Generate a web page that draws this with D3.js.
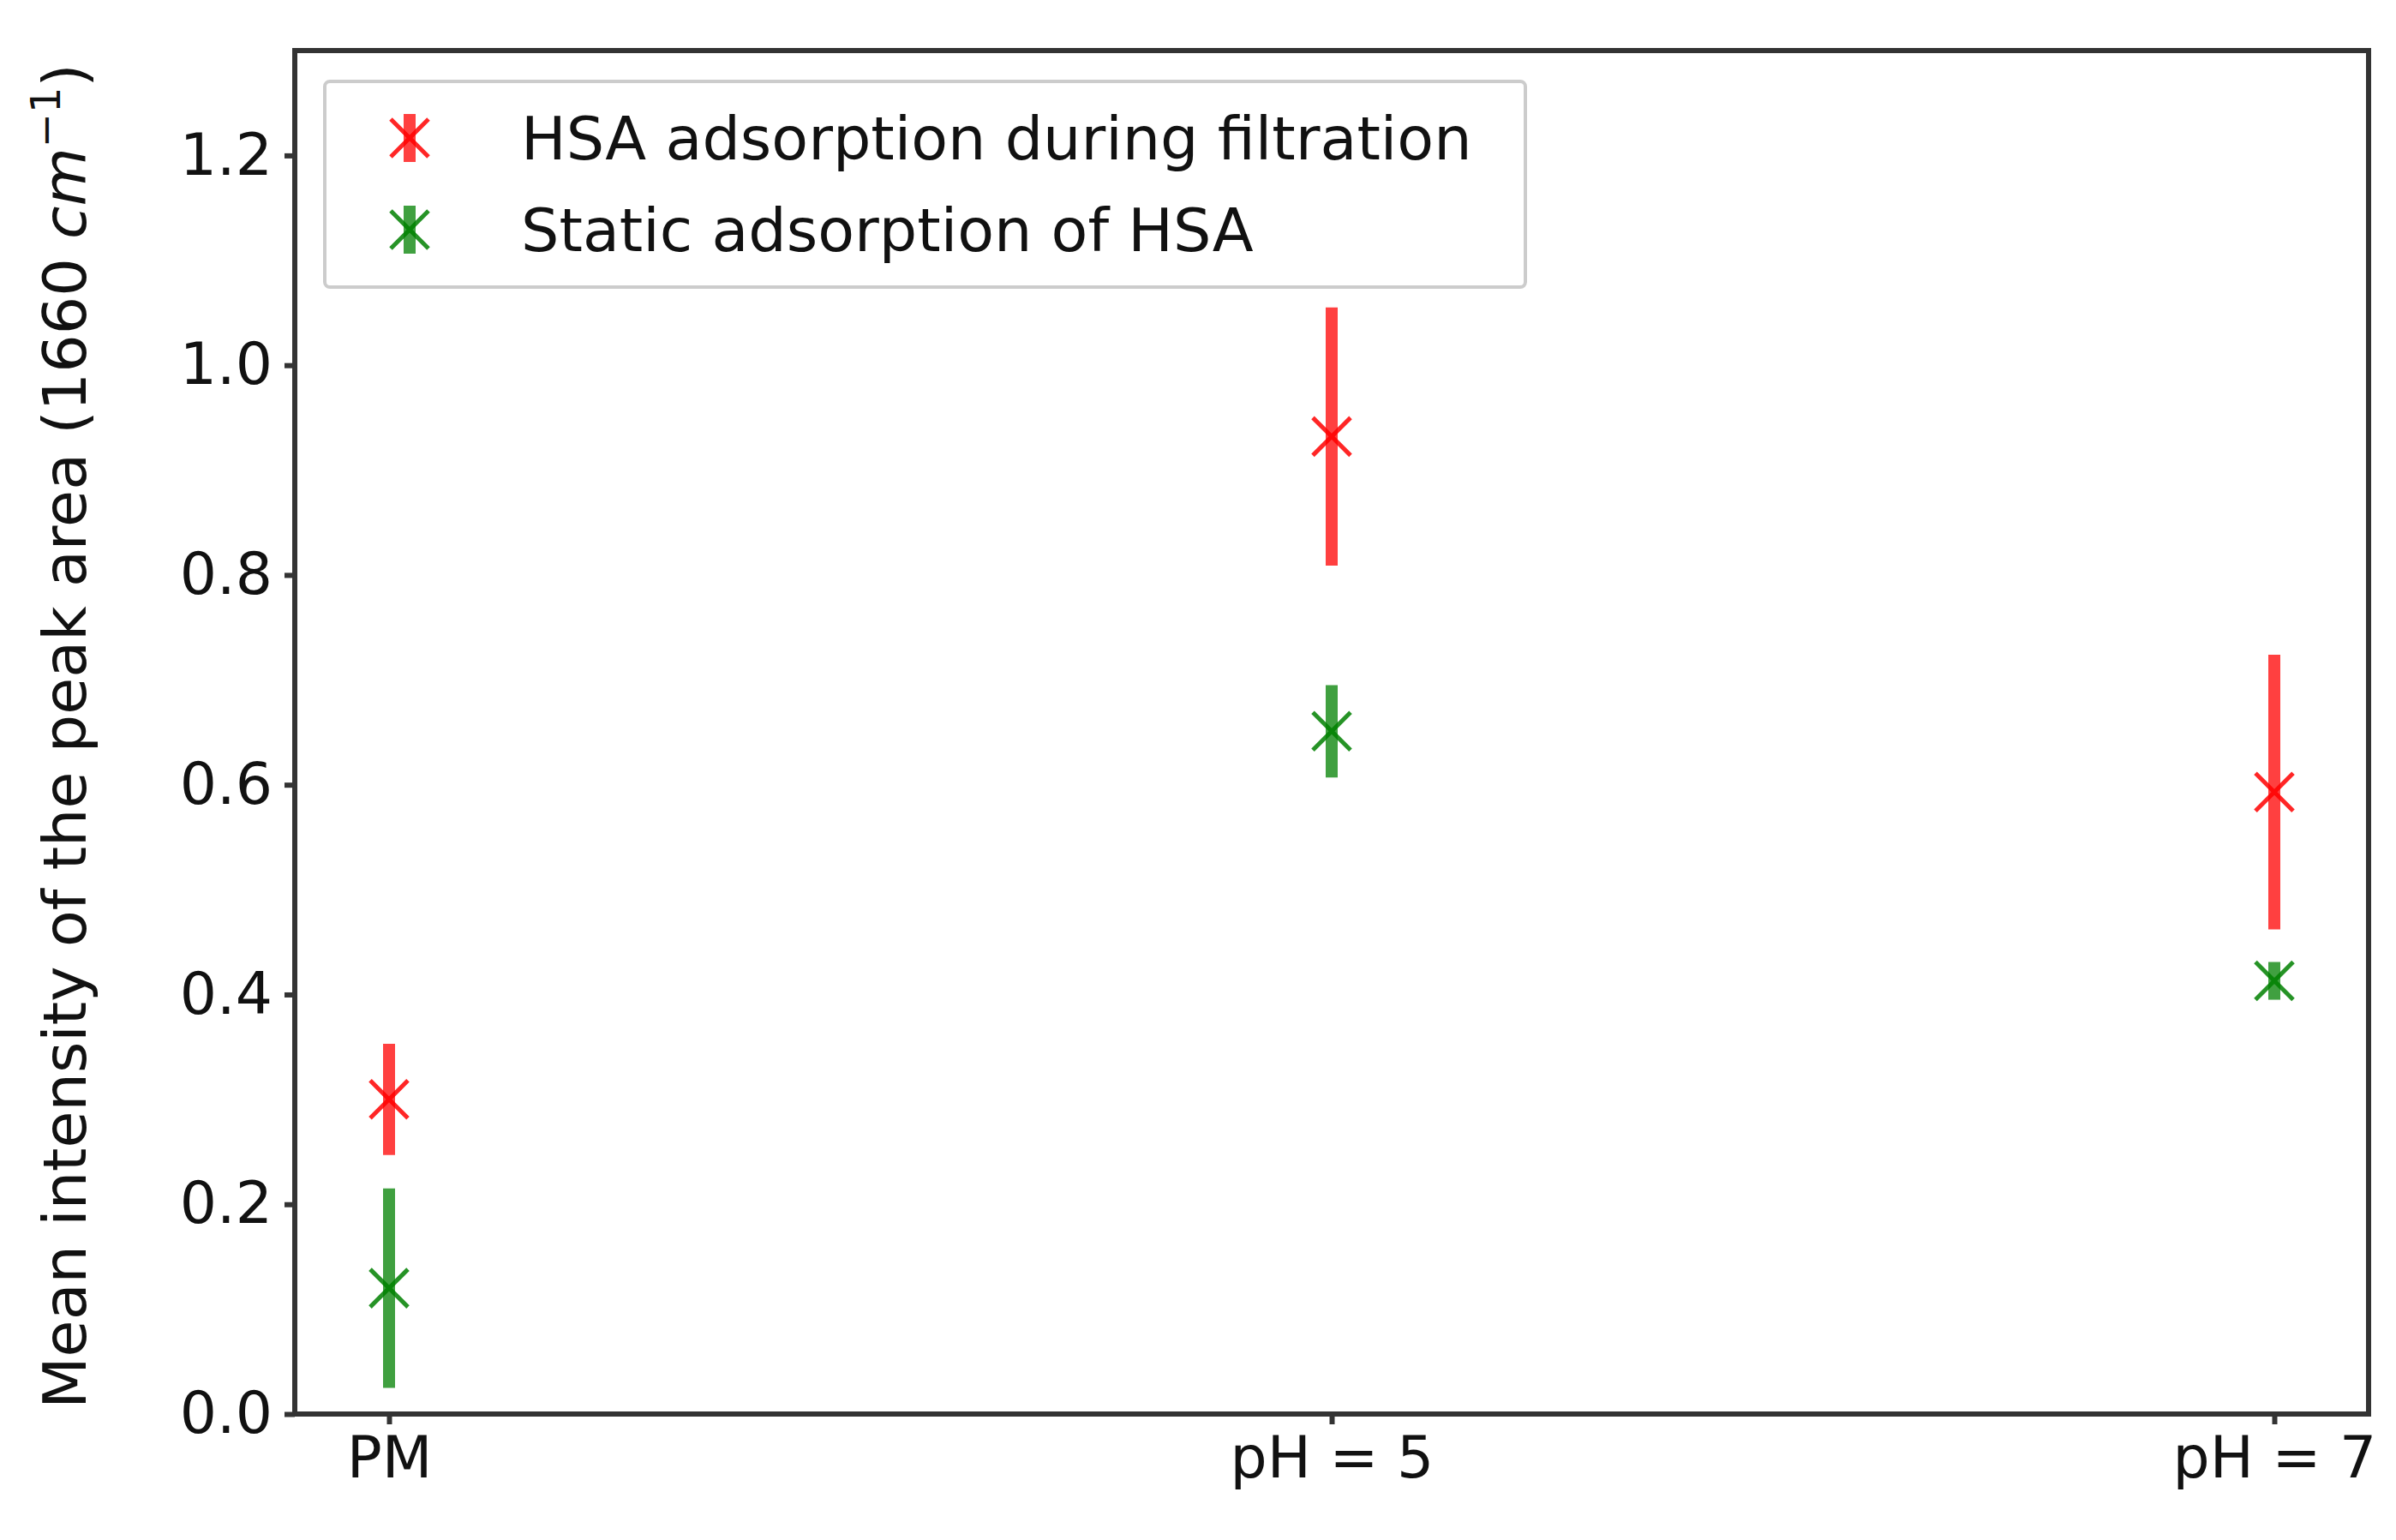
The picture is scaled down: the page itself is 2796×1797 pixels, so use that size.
<!DOCTYPE html>
<html><head><meta charset="utf-8">
<script src="https://cdn.jsdelivr.net/npm/d3@7"></script>
<style>body{margin:0;background:#fff}</style></head>
<body><svg id="c" width="2796" height="1797"></svg>
<script>
const categories = ["PM", "pH = 5", "pH = 7"];
const filtrationMean = [0.30, 0.932, 0.593];
const filtrationErr = [0.053, 0.123, 0.131];
const staticMean = [0.12, 0.651, 0.413];
const staticErr = [0.095, 0.044, 0.018];
const yTicks = [0.0, 0.2, 0.4, 0.6, 0.8, 1.0, 1.2];
const seriesNames = ["HSA adsorption during filtration", "Static adsorption of HSA"];

const svg = d3.select("#c");
const L = 344, R = 2764, T = 59, B = 1650;
const x = d3.scaleLinear().domain([-0.1, 2.1]).range([L, R]);
const y = d3.scaleLinear().domain([0, 1.3]).range([B, T]);
const font = "DejaVu Sans, sans-serif";

const series = [
  {mean: filtrationMean, err: filtrationErr, bar: "#ff4040", mk: "#ff0000"},
  {mean: staticMean, err: staticErr, bar: "#40a040", mk: "#008000"}
];
const ms = 22;
function marker(g, cx, cy, col) {
  g.append("path").attr("d", `M${cx-ms},${cy-ms}L${cx+ms},${cy+ms}M${cx-ms},${cy+ms}L${cx+ms},${cy-ms}`)
    .attr("stroke", col).attr("stroke-width", 5).attr("fill", "none").attr("opacity", 0.85);
}
series.forEach(s => {
  const g = svg.append("g");
  s.mean.forEach((m, i) => {
    g.append("line").attr("x1", x(i)).attr("x2", x(i))
      .attr("y1", y(m - s.err[i])).attr("y2", y(m + s.err[i]))
      .attr("stroke", s.bar).attr("stroke-width", 14);
    marker(g, x(i), y(m), s.mk);
  });
});

const xa = svg.append("g").attr("transform", `translate(0,${B})`)
  .call(d3.axisBottom(x).tickValues([0,1,2]).tickFormat(i => categories[i]).tickSize(12).tickPadding(14));
const ya = svg.append("g").attr("transform", `translate(${L},0)`)
  .call(d3.axisLeft(y).tickValues(yTicks).tickFormat(d3.format(".1f")).tickSize(12).tickPadding(14));
[xa, ya].forEach(a => {
  a.select(".domain").remove();
  a.selectAll("line").attr("stroke", "#333").attr("stroke-width", 6);
  a.selectAll("text").attr("font-family", font).attr("font-size", 68).attr("fill", "#111");
});
svg.append("rect").attr("x", L).attr("y", T).attr("width", R - L).attr("height", B - T)
  .attr("fill", "none").attr("stroke", "#333").attr("stroke-width", 6);

const yl = svg.append("text").attr("transform", `translate(100,859) rotate(-90)`)
  .attr("text-anchor", "middle").attr("font-family", font).attr("font-size", 70).attr("fill", "#111");
yl.append("tspan").text("Mean intensity of the peak area (1660 ");
yl.append("tspan").attr("font-style", "italic").text("cm");
yl.append("tspan").attr("font-size", 48).attr("dy", -30).text("−1");
yl.append("tspan").attr("dy", 30).text(")");

svg.append("rect").attr("x", 379).attr("y", 95).attr("width", 1401).attr("height", 240)
  .attr("rx", 6).attr("fill", "#fff").attr("stroke", "#ccc").attr("stroke-width", 4);
const lg = svg.append("g");
[161, 268].forEach((ly, k) => {
  const s = series[k];
  lg.append("line").attr("x1", 478).attr("x2", 478).attr("y1", ly - 28).attr("y2", ly + 28)
    .attr("stroke", s.bar).attr("stroke-width", 14);
  marker(lg, 478, ly, s.mk);
  lg.append("text").attr("x", 608).attr("y", ly).attr("dy", "0.35em")
    .attr("font-family", font).attr("font-size", 70).attr("fill", "#111").text(seriesNames[k]);
});
</script></body></html>
